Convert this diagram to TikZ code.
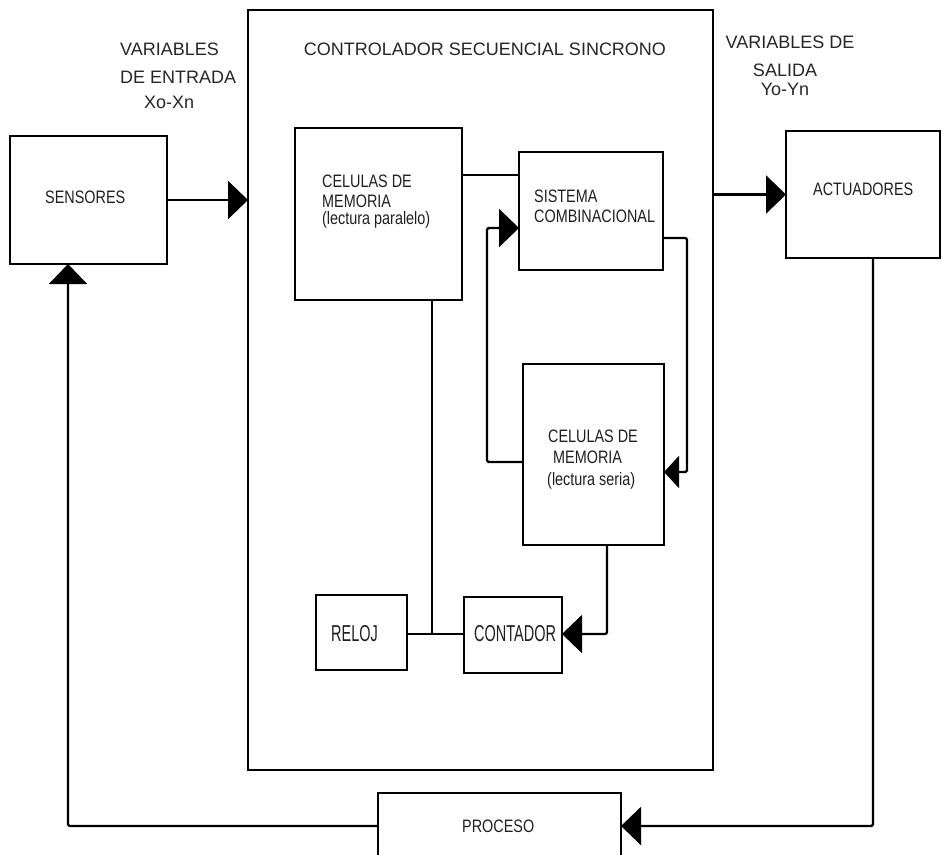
\documentclass[tikz,border=0pt]{standalone}
\usepackage{fontspec}
\setmainfont{Liberation Sans}
\newfontfamily\boxfont[FakeStretch=0.8]{Liberation Sans}
\newfontfamily\tallfont[FakeStretch=0.63]{Liberation Sans}
\usetikzlibrary{arrows.meta}
\begin{document}
\begin{tikzpicture}[x=1pt,y=-1pt,
  box/.style={draw, line width=2.2pt, inner sep=0pt, outer sep=0pt},
  wire/.style={line width=2.2pt, rounded corners=1.5pt},
  arr/.style={wire, -{Triangle[length=20pt,width=38pt]}},
  sarr/.style={wire, -{Triangle[length=15pt,width=32pt]}},
  lbl/.style={inner sep=0pt, anchor=base west, font=\boxfont\fontsize{18}{20}\selectfont, text=black!88},
  tall/.style={inner sep=0pt, anchor=base west, font=\tallfont\fontsize{23}{25}\selectfont, text=black!88},
  ptxt/.style={inner sep=0pt, font=\fontsize{18}{20}\selectfont, text=black!85}]
\useasboundingbox (0,0) rectangle (942,854);
\clip (0,0) rectangle (942,854);

% boxes
\node[box, minimum width=157pt, minimum height=128pt] (sens) at (88.5,200) {};
\node[box, minimum width=465pt, minimum height=760pt] (ctrl) at (480.5,390) {};
\node[box, minimum width=154pt, minimum height=127pt] (act) at (863,194.5) {};
\node[box, minimum width=167pt, minimum height=172pt] (par) at (378.5,214) {};
\node[box, minimum width=144pt, minimum height=118pt] (sis) at (591,211) {};
\node[box, minimum width=141pt, minimum height=181pt] (ser) at (593.5,454.5) {};
\node[box, minimum width=91pt, minimum height=75pt] (reloj) at (361.5,632.5) {};
\node[box, minimum width=98pt, minimum height=76pt] (cont) at (513,635) {};
\node[box, minimum width=243pt, minimum height=69pt] (proc) at (499.5,827.5) {};

% labels in boxes
\node[lbl] (tsens) at (45,203) {SENSORES};
\node[lbl] (tact) at (813,195) {ACTUADORES};
\node[lbl] (tpar1) at (322,187) {CELULAS DE};
\node[lbl] (tpar2) at (322,207) {MEMORIA};
\node[lbl] (tpar3) at (322,224) {(lectura paralelo)};
\node[lbl] (tsis1) at (534,202) {SISTEMA};
\node[lbl] (tsis2) at (534,222) {COMBINACIONAL};
\node[lbl] (tser1) at (548,442) {CELULAS DE};
\node[lbl] (tser2) at (553,463) {MEMORIA};
\node[lbl] (tser3) at (547,485) {(lectura seria)};
\node[tall] (treloj) at (331,641) {RELOJ};
\node[tall] (tcont) at (474,641) {CONTADOR};
\node[lbl] (tproc) at (462,832) {PROCESO};

% free texts
\node[ptxt, anchor=base] (title) at (485,55) {CONTROLADOR SECUENCIAL SINCRONO};
\node[ptxt, anchor=base west] (vin1) at (120,55) {VARIABLES};
\node[ptxt, anchor=base west] (vin2) at (120,83) {DE ENTRADA};
\node[ptxt, anchor=base west] (vin3) at (144,108) {Xo-Xn};
\node[ptxt, anchor=base] (vout1) at (790,48) {VARIABLES DE};
\node[ptxt, anchor=base] (vout2) at (785,76) {SALIDA};
\node[ptxt, anchor=base] (vout3) at (785,95) {Yo-Yn};

% helper coordinates
\coordinate (y175) at (0,175);
\coordinate (y462) at (0,462);
\coordinate (y472) at (0,472);
\coordinate (lpt) at (487,228);
\coordinate (rpt) at (687,238);
\coordinate (rpt2) at (687,472);
\coordinate (cpt) at (607,634);
\coordinate (jpt) at (432,634);
\coordinate (apt) at (873,826);
\coordinate (spt) at (68,826);

% connectors
\draw[arr] (sens.east) -- (sens.east -| ctrl.west);
\draw[arr] (act.west -| ctrl.east) -- (act.west);
\draw[wire] (par.east |- y175) -- (sis.west |- y175);
\draw[arr] (ser.west |- y462) -| (lpt) -- (sis.west |- lpt);
\draw[sarr] (sis.east |- rpt) -- (rpt) -- (rpt2) -- (ser.east |- rpt2);
\draw[arr] (ser.south -| cpt) -- (cpt) -- (cont.east |- cpt);
\draw[wire] (reloj.east |- jpt) -- (cont.west |- jpt);
\draw[wire] (par.south -| jpt) -- (jpt);
\draw[arr] (act.south -| apt) -- (apt) -- (proc.east |- apt);
\draw[arr] (proc.west |- spt) -- (spt) -- (sens.south -| spt);
\end{tikzpicture}
\end{document}
